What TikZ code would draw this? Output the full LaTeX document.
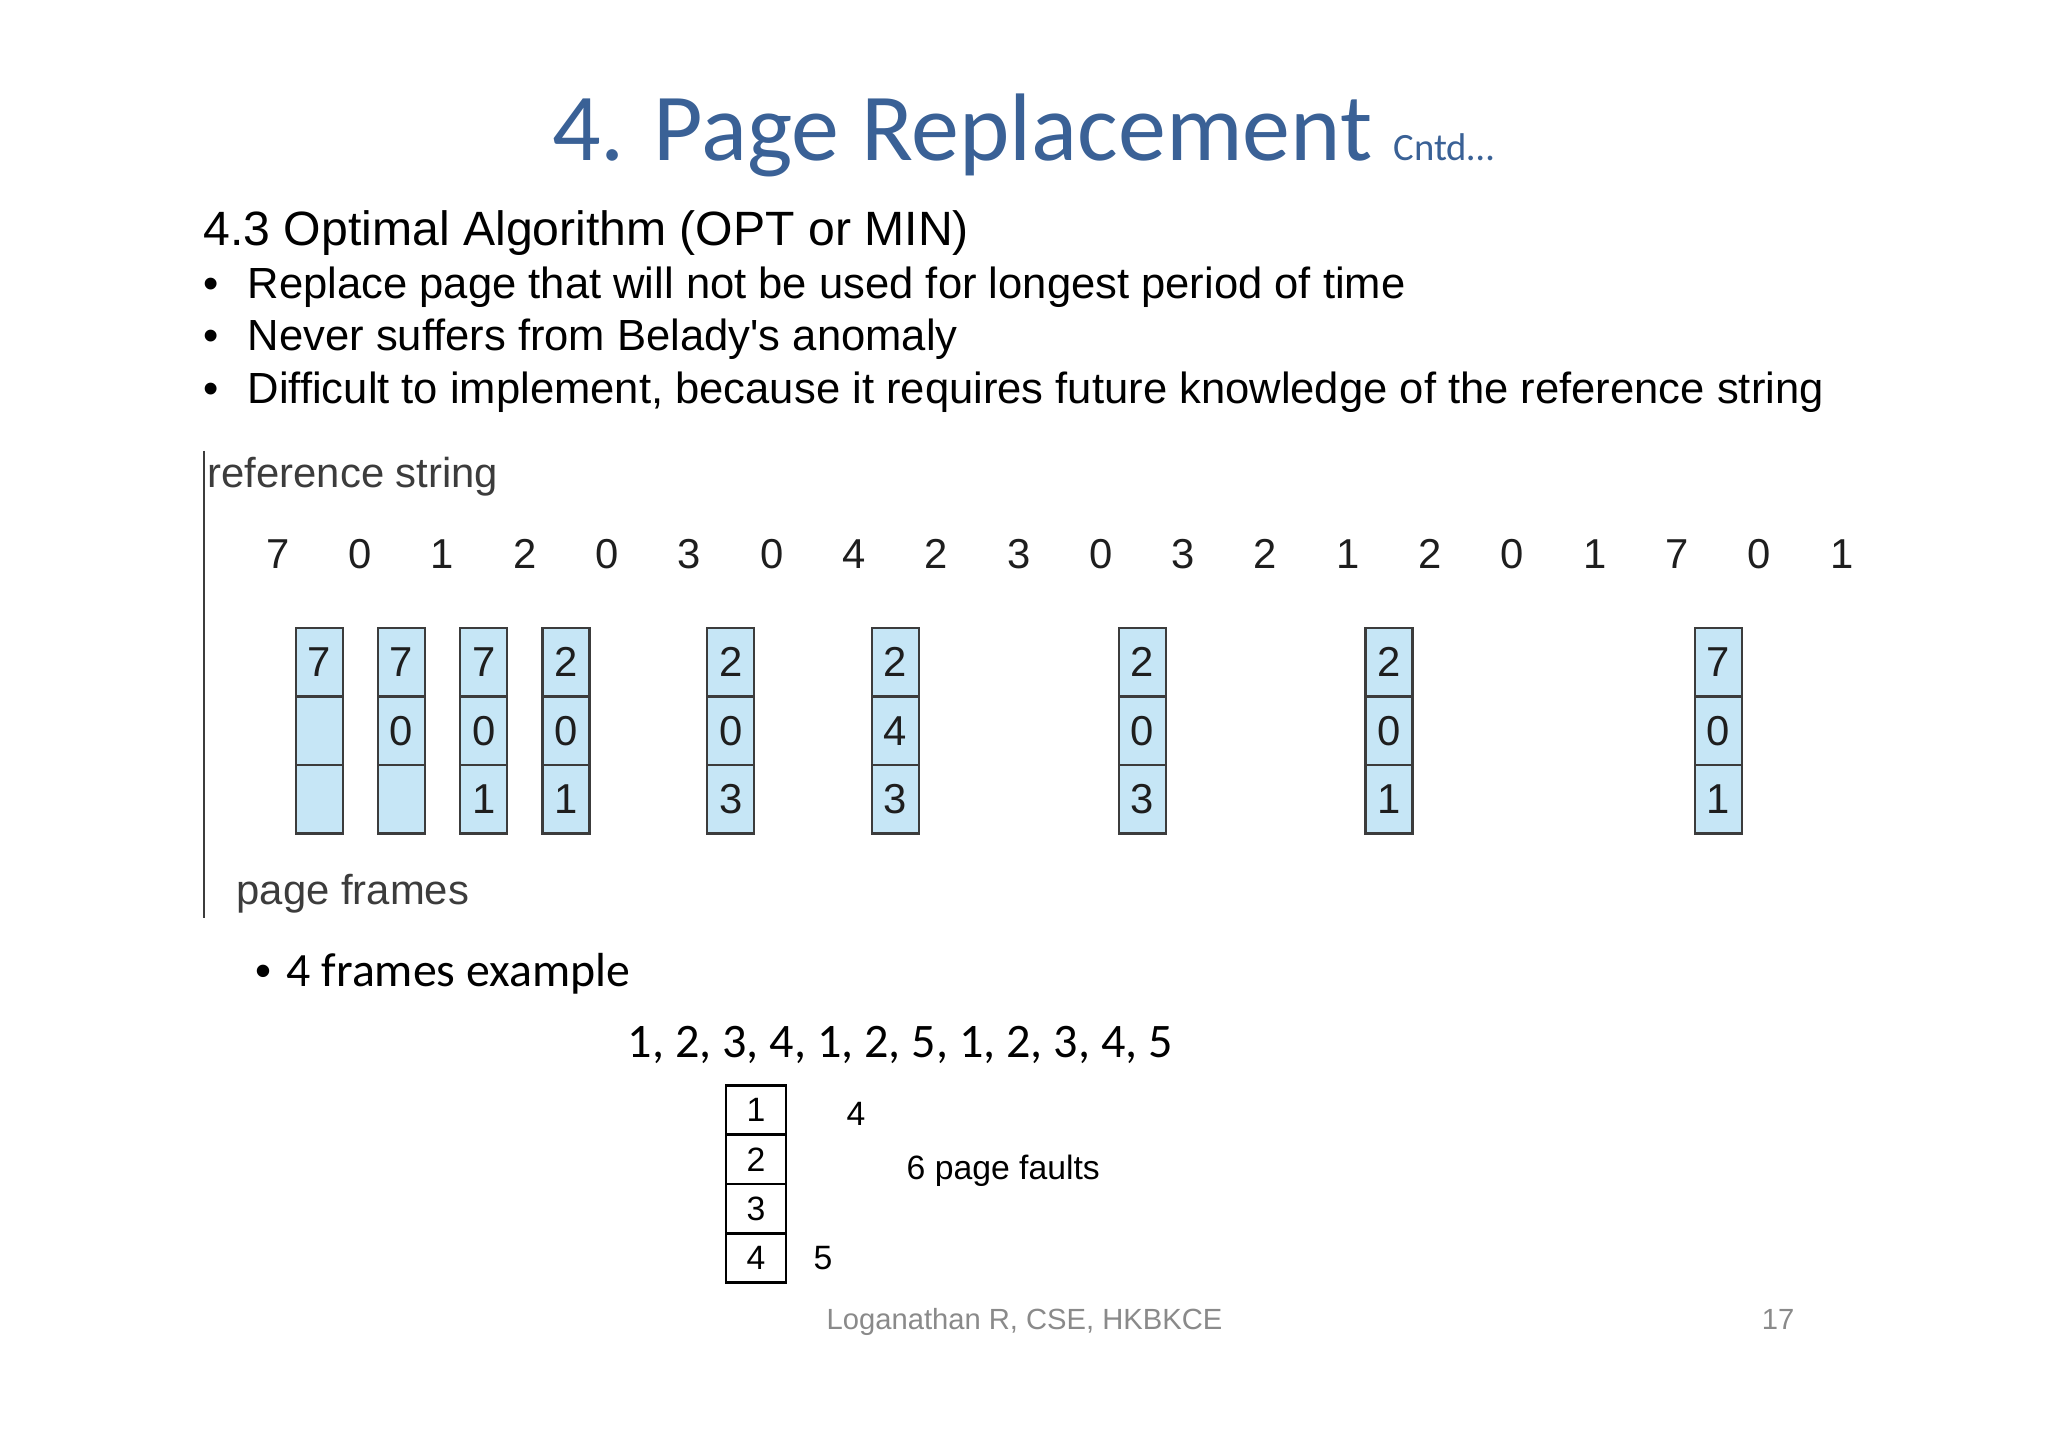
\documentclass[tikz,border=0pt]{standalone}
\usepackage{fontspec}
\setmainfont{Liberation Sans}
\newfontfamily\calibri{Carlito}
\usepackage{xcolor}
\usepackage{tikz}
\usetikzlibrary{
    positioning, % relative placement of the numbers and cells
    calc
}
\definecolor{titleblue}{HTML}{3A6196}
\definecolor{framefill}{HTML}{C6E6F6}
\definecolor{figtext}{HTML}{1E1E1E}
\definecolor{figgrey}{HTML}{3C3C3C}
\definecolor{footgrey}{HTML}{8A8A8A}

% one column of three page frames
\newcommand{\pageframe}[5]{%
  \node[cell, anchor=north] (#1a) at (#2) {#3};
  \node[cell, below=0pt of #1a] (#1b) {#4};
  \node[cell, below=0pt of #1b] (#1c) {#5};
}

\begin{document}
\begin{tikzpicture}[
    heading/.style={anchor=base west, inner sep=0pt, font=\fontsize{13.7pt}{16pt}\selectfont},
    bulletline/.style={anchor=base west, inner sep=0pt, font=\fontsize{12.4pt}{15pt}\selectfont},
    figlabel/.style={anchor=base west, inner sep=0pt, text=figgrey, font=\fontsize{11.9pt}{14pt}\selectfont},
    refnum/.style={inner sep=0pt, outer sep=0pt, minimum width=0.823cm, text=figtext, font=\fontsize{11.9pt}{14pt}\selectfont},
    cell/.style={draw=figgrey, line width=0.6pt, fill=framefill, minimum width=0.47cm, minimum height=0.685cm, inner sep=0pt, outer sep=0pt, text=figtext, font=\fontsize{11.9pt}{14pt}\selectfont},
    slot/.style={draw, line width=0.8pt, minimum width=0.60cm, minimum height=0.493cm, inner sep=0pt, outer sep=0pt, font=\fontsize{9.6pt}{11pt}\selectfont},
    note/.style={inner sep=0pt, font=\fontsize{9.6pt}{11pt}\selectfont},
    footer/.style={inner sep=0pt, text=footgrey, font=\fontsize{8.3pt}{10pt}\selectfont},
  ]
    \useasboundingbox[fill=white] (0,0) rectangle (20.48,-14.47);

    % Title
    \node[anchor=base, inner sep=0pt, text=titleblue, font=\calibri\fontsize{27.3pt}{32pt}\selectfont] (title) at (10.23,-1.61)
      {4. Page Replacement {\fontsize{11pt}{13pt}\selectfont Cntd…}};

    % Text
    \node[heading] (opt) at (2.03,-2.455) {4.3 Optimal Algorithm (OPT or MIN)};
    \node[bulletline] (b1) at (2.47,-2.99) {\llap{•\hspace{0.29cm}}Replace page that will not be used for longest period of time};
    \node[bulletline] (b2) at (2.47,-3.51) {\llap{•\hspace{0.29cm}}Never suffers from Belady\textquotesingle s anomaly};
    \node[bulletline] (b3) at (2.47,-4.035) {\llap{•\hspace{0.29cm}}Difficult to implement, because it requires future knowledge of the reference string};

    % Reference string figure
    \draw[figgrey, line width=0.6pt] (2.04,-4.51) -- (2.04,-9.18);
    \node[figlabel] (rslabel) at (2.07,-4.88) {reference string};
    \node[figlabel] (pflabel) at (2.36,-9.05) {page frames};

    \node[refnum] (r1) at (2.78,-5.54) {7};
    \node[refnum, right=0pt of r1] (r2) {0};
    \node[refnum, right=0pt of r2] (r3) {1};
    \node[refnum, right=0pt of r3] (r4) {2};
    \node[refnum, right=0pt of r4] (r5) {0};
    \node[refnum, right=0pt of r5] (r6) {3};
    \node[refnum, right=0pt of r6] (r7) {0};
    \node[refnum, right=0pt of r7] (r8) {4};
    \node[refnum, right=0pt of r8] (r9) {2};
    \node[refnum, right=0pt of r9] (r10) {3};
    \node[refnum, right=0pt of r10] (r11) {0};
    \node[refnum, right=0pt of r11] (r12) {3};
    \node[refnum, right=0pt of r12] (r13) {2};
    \node[refnum, right=0pt of r13] (r14) {1};
    \node[refnum, right=0pt of r14] (r15) {2};
    \node[refnum, right=0pt of r15] (r16) {0};
    \node[refnum, right=0pt of r16] (r17) {1};
    \node[refnum, right=0pt of r17] (r18) {7};
    \node[refnum, right=0pt of r18] (r19) {0};
    \node[refnum, right=0pt of r19] (r20) {1};

    % Frames after each fault
    \pageframe{f1}{r1.east |- 0,-6.28}{7}{}{}
    \pageframe{f2}{r2.east |- 0,-6.28}{7}{0}{}
    \pageframe{f3}{r3.east |- 0,-6.28}{7}{0}{1}
    \pageframe{f4}{r4.east |- 0,-6.28}{2}{0}{1}
    \pageframe{f5}{r6.east |- 0,-6.28}{2}{0}{3}
    \pageframe{f6}{r8.east |- 0,-6.28}{2}{4}{3}
    \pageframe{f7}{r11.east |- 0,-6.28}{2}{0}{3}
    \pageframe{f8}{r14.east |- 0,-6.28}{2}{0}{1}
    \pageframe{f9}{r18.east |- 0,-6.28}{7}{0}{1}

    % 4 frames example
    \node[anchor=base west, inner sep=0pt, font=\calibri\fontsize{13.6pt}{16pt}\selectfont] (ex) at (2.86,-9.87)
      {\llap{{\rmfamily\fontsize{13pt}{14pt}\selectfont •}\hspace{0.15cm}}4 frames example};
    \node[anchor=base west, inner sep=0pt, font=\calibri\fontsize{13.7pt}{16pt}\selectfont] (seq) at (6.27,-10.58)
      {1, 2, 3, 4, 1, 2, 5, 1, 2, 3, 4, 5};

    \node[slot, anchor=north] (s1) at (7.56,-10.855) {1};
    \node[slot, below=0pt of s1] (s2) {2};
    \node[slot, below=0pt of s2] (s3) {3};
    \node[slot, below=0pt of s3] (s4) {4};
    \node[note, right=0.6cm of s1, yshift=-0.04cm] (n4) {4};
    \node[note, right=0.27cm of s4] (n5) {5};
    \node[note, anchor=base west] (faults) at (9.06,-11.80) {6 page faults};

    % Footer
    \node[footer, anchor=base west] (author) at (8.26,-13.30) {Loganathan R, CSE, HKBKCE};
    \node[footer, anchor=base] (pageno) at (17.78,-13.30) {17};
\end{tikzpicture}
\end{document}
